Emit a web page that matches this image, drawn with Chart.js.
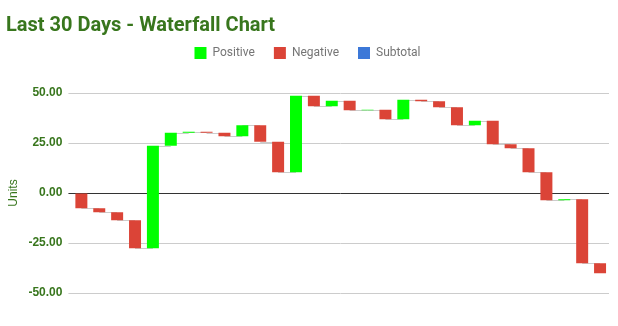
<!DOCTYPE html>
<html>
<head>
<meta charset="utf-8">
<title>Waterfall</title>
<script src="https://cdn.jsdelivr.net/npm/chart.js@4.4.0/dist/chart.umd.min.js"></script>
<style>
  html, body { margin: 0; padding: 0; background: #fff; }
  #wrap { width: 618px; height: 326px; }
</style>
</head>
<body>
<div id="wrap"><canvas id="waterfall"></canvas></div>
<script>
var days = ['1', '2', '3', '4', '5', '6', '7', '8', '9', '10',
            '11', '12', '13', '14', '15', '16', '17', '18', '19', '20',
            '21', '22', '23', '24', '25', '26', '27', '28', '29', '30'];
// daily change in units
var changes = [-7.67, -2, -4, -14, 51.33, 6.5, 0.5, -0.5, -1.83, 5.5,
               -8.17, -15.33, 38.33, -5.33, 2.83, -4.83, 0.33, -4.83, 9.83, -0.83,
               -3, -9, 2.33, -11.83, -2, -12, -14, 0.5, -32, -5];
var seriesNames = ['Positive', 'Negative', 'Subtotal'];
var seriesColors = ['#00ff00', '#db4437', '#3c78d8'];
var yTicks = [-50, -25, 0, 25, 50];

var green = '#38761d';

// running total -> floating [from, to] bars
var steps = [];
var total = 0;
changes.forEach(function (c) {
    steps.push([total, total + c]);
    total += c;
});

var positive = steps.map(function (s, i) { return changes[i] >= 0 ? s : null; });
var negative = steps.map(function (s, i) { return changes[i] < 0 ? s : null; });
var subtotal = steps.map(function () { return null; });

// thin grey step lines joining each bar to the next
var connectors = {
    id: 'connectors',
    beforeDatasetsDraw: function (chart) {
        var ctx = chart.ctx;
        var x = chart.scales.x;
        var y = chart.scales.y;
        ctx.save();
        ctx.strokeStyle = '#cccccc';
        ctx.lineWidth = 1;
        for (var i = 0; i < steps.length - 1; i++) {
            var yy = Math.round(y.getPixelForValue(steps[i][1])) + 0.5;
            ctx.beginPath();
            ctx.moveTo(x.getPixelForValue(i), yy);
            ctx.lineTo(x.getPixelForValue(i + 1), yy);
            ctx.stroke();
        }
        ctx.restore();
    }
};

// extra room under the legend
var legendGap = {
    id: 'legendGap',
    beforeInit: function (chart) {
        var fit = chart.legend.fit;
        chart.legend.fit = function () {
            fit.bind(chart.legend)();
            this.height += 24;
        };
    }
};

var ctx = document.getElementById('waterfall').getContext('2d');
var chart = new Chart(ctx, {
    type: 'bar',
    data: {
        labels: days,
        datasets: [
            { label: seriesNames[0], data: positive, backgroundColor: seriesColors[0] },
            { label: seriesNames[1], data: negative, backgroundColor: seriesColors[1] },
            { label: seriesNames[2], data: subtotal, backgroundColor: seriesColors[2] }
        ]
    },
    options: {
        responsive: true,
        maintainAspectRatio: false,
        animation: false,
        layout: {
            padding: { left: 6, right: 9, top: 0, bottom: 33 }
        },
        datasets: {
            bar: {
                grouped: false,
                categoryPercentage: 1,
                barPercentage: 0.67,
                borderWidth: 0
            }
        },
        scales: {
            x: {
                display: false
            },
            y: {
                min: -50,
                max: 50,
                afterBuildTicks: function (scale) {
                    scale.ticks = yTicks.map(function (v) { return { value: v }; });
                },
                border: { display: false },
                grid: {
                    tickLength: 4,
                    color: function (c) { return c.tick && c.tick.value === 0 ? '#333333' : '#cccccc'; }
                },
                ticks: {
                    padding: 6,
                    color: green,
                    font: { family: "'Liberation Sans', Arial, sans-serif", size: 12, weight: 'bold' },
                    callback: function (v) { return Number(v).toFixed(2); }
                },
                title: {
                    display: true,
                    text: 'Units',
                    color: green,
                    padding: { top: 0, bottom: 2 },
                    font: { family: "'Liberation Sans', Arial, sans-serif", size: 12 }
                }
            }
        },
        plugins: {
            title: {
                display: true,
                text: 'Last 30 Days - Waterfall Chart',
                align: 'start',
                color: green,
                padding: { top: 14, bottom: -10 },
                font: { family: 'Roboto', size: 20, weight: 'bold' }
            },
            legend: {
                position: 'top',
                labels: {
                    boxWidth: 12,
                    boxHeight: 12,
                    padding: 19,
                    color: '#757575',
                    font: { family: 'Roboto', size: 12 }
                }
            },
            tooltip: { enabled: false }
        }
    },
    plugins: [connectors, legendGap]
});
</script>
</body>
</html>
